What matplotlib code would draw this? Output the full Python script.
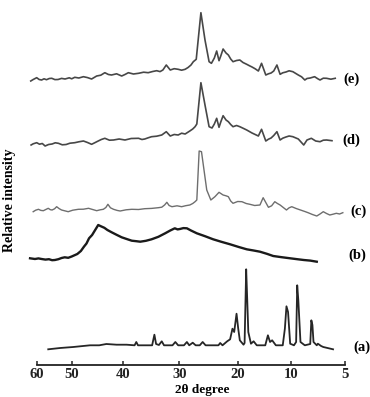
import numpy as np
import matplotlib
matplotlib.use("Agg")
import matplotlib.pyplot as plt
from matplotlib.transforms import blended_transform_factory

# 2theta tick values and where they sit along the drawn axis (the printed axis is not linear)
tick_deg = [5, 10, 20, 30, 40, 50, 60]
tick_pos = [0, 54.3, 107.3, 165.7, 222.3, 273.3, 308.3]

# patterns: 2theta (deg) and intensity above own baseline
e_x = [61.7, 61.0, 60.0, 59.3, 58.6, 57.9, 57.2, 56.4, 55.7, 54.8, 53.9, 52.9, 51.9, 50.7, 50.0,
       49.4, 48.6, 47.7, 46.9, 46.1, 45.6, 45.1, 44.3, 43.5, 42.8, 42.2, 41.2, 40.2, 39.6, 39.0,
       38.1, 37.2, 36.3, 35.5, 34.7, 34.0, 33.4, 32.9, 32.3, 31.6, 30.9, 30.2, 29.6, 29.0, 28.5,
       28.0, 27.6, 27.1, 26.3, 25.6, 24.9, 24.5, 24.0, 23.6, 23.2, 22.9, 22.5, 22.0, 21.6, 21.2,
       20.8, 20.2, 19.6, 19.0, 18.3, 17.8, 17.3, 16.7, 16.1, 15.5, 14.7, 14.2, 13.7, 13.2, 12.6,
       12.0, 11.5, 10.9, 10.3, 9.8, 9.3, 9.0, 8.7, 8.5, 8.2, 7.8, 7.5, 7.3, 7.0, 6.7,
       6.3, 5.9]
e_y = [-1, 0.5, 2.3, 0.5, 0, 1.2, 0.3, 1.5, 1.7, 0.4, 0.5, 1.6, 1, 2.2, 1.2,
       2.7, 2.0, 3.3, 2.4, 1, 2.5, 4, 4.8, 7.3, 5.5, 5, 6.2, 4, 5.5, 7.3,
       6.0, 6.7, 7.8, 7.3, 8.5, 9.3, 8.4, 10, 15, 10, 11.3, 10.7, 9.8, 10.7, 12.5,
       15, 18.3, 20.7, 67.3, 40, 18.3, 16.7, 22, 29, 19.3, 24, 31, 27, 25, 21,
       18.3, 19.5, 20, 17.5, 15.7, 14.3, 13, 11.2, 9, 16.7, 5, 6.2, 7, 9, 15,
       5.7, 7.2, 8, 9.2, 8.3, 5, 3.2, 0, 1.5, 2, 3.3, 1.2, 0, 1.8, 1.7,
       0.8, 1.7]

d_x = [61.6, 61.0, 60.0, 59.2, 58.4, 57.6, 56.6, 55.6, 54.7, 53.8, 52.7, 51.6, 50.5, 49.4, 48.6,
       47.7, 46.9, 46.1, 45.5, 45.0, 44.2, 43.5, 42.6, 41.8, 40.7, 39.6, 38.5, 37.2, 36.6, 36.1,
       35.5, 34.9, 34.0, 33.1, 32.3, 31.6, 30.9, 30.2, 29.6, 29.0, 28.2, 27.7, 27.3, 27.0, 26.3,
       25.6, 24.9, 24.4, 24.0, 23.6, 23.2, 22.9, 22.5, 22.0, 21.6, 21.2, 20.8, 20.2, 19.6, 19.0,
       18.3, 17.8, 17.3, 16.7, 16.1, 15.5, 14.7, 14.2, 13.7, 13.2, 12.6, 12.0, 11.5, 10.9, 10.3,
       9.8, 9.3, 8.8, 8.5, 8.1, 7.7, 7.3, 7.0, 6.7, 6.2]
d_y = [0, 1.2, 2.3, 0.8, 1.5, -1, 0.5, 1, 2.2, 1.7, 0.2, 0.5, 1.8, 2.3, 3.2,
       4, 2.5, 0.7, 2.2, 3.5, 5.5, 6.7, 4.8, 5, 6, 5, 6.5, 6.7, 5.5, 6,
       7.2, 8.3, 8.8, 10, 13.3, 9, 10.5, 10, 11.8, 11, 14, 16, 18.3, 21, 62.3,
       40, 18.3, 17, 21, 26.7, 17.7, 23, 29.3, 25, 23.3, 20.5, 18.3, 19.5, 18.3, 16.8,
       15, 13.5, 12, 10.5, 9, 15.7, 4, 5.8, 7, 9.5, 13.3, 5, 6.8, 8, 9,
       8.3, 6, 0, 5, 6.7, 4, 3.3, 4.8, 5, 4.3]

c_x = [61.0, 60.3, 59.5, 58.8, 58.1, 57.4, 56.7, 56.1, 55.6, 54.9, 54.3, 53.6, 52.9, 52.0, 51.0,
       49.8, 48.7, 47.7, 46.7, 45.9, 45.1, 44.4, 43.8, 43.3, 42.9, 42.4, 41.8, 41.1, 40.5, 39.4,
       38.4, 37.2, 36.1, 34.9, 33.7, 33.1, 32.6, 32.2, 31.8, 31.3, 30.4, 29.6, 28.9, 28.2, 27.7,
       27.3, 27.0, 26.6, 26.2, 25.7, 25.3, 24.6, 23.9, 23.2, 22.5, 22.0, 21.6, 21.2, 20.8, 20.0,
       19.2, 18.4, 17.7, 16.8, 15.8, 15.2, 14.2, 13.6, 13.0, 12.5, 12.0, 11.4, 10.8, 10.3, 9.9,
       9.5, 9.1, 8.7, 8.4, 8.0, 7.6, 7.3, 7.0, 6.7, 6.4, 6.1, 5.8, 5.5, 5.2]
c_y = [-0.7, 0.8, 1.7, 0.6, 0.3, 1.5, 2.7, 1.3, 1, 2.2, 4.3, 2.4, 1, 0.2, -0.7,
       0.8, 1.7, 1.8, 2.7, 1.5, 0.3, 1.2, 1.7, 3.5, 6.7, 3.2, 1.7, 0.6, 0, 1.2,
       1.7, 1.5, 2.3, 2.6, 3.3, 3.8, 6, 8.7, 5.5, 4.3, 5.2, 4.3, 5.3, 6, 7.5,
       9.3, 11, 60, 59.3, 38, 21, 11, 14.3, 18.7, 16, 15.2, 14.3, 10, 7.7, 9.5,
       9.3, 7.5, 6.7, 5.5, 6, 13.3, 3.7, 5.2, 9.3, 7.5, 6, 3.5, 1, 3.2, 4.3,
       2.5, 1, -0.5, -1.7, -3.5, -5, -3, -0.7, -2.5, -4, -3.2, -2.3, -3.0, -1.7]

b_x = [61.9, 60.5, 59.5, 58.6, 57.5, 56.5, 55.6, 54.8, 53.8, 52.9, 52.0, 51.0, 50.0, 48.9, 48.2,
       47.6, 47.1, 46.6, 46.0, 45.4, 44.8, 44.3, 43.6, 43.0, 42.2, 41.2, 40.2, 39.3, 38.4, 37.6,
       36.9, 35.9, 34.9, 33.7, 32.5, 31.6, 30.8, 30.3, 29.9, 29.3, 28.7, 28.0, 27.0, 25.6, 24.2,
       22.8, 21.3, 19.8, 18.3, 17.0, 15.8, 14.5, 13.3, 11.7, 10.1, 9.4, 8.8, 8.2, 7.6]
b_y = [1.7, 1.0, 1.6, 1, 0.4, 0.8, -0.2, 0, 0.8, 2, 2.7, 2.2, 3.5, 6, 9,
       13.3, 16.5, 21.7, 25, 30, 35, 33.8, 32.2, 30, 27.8, 25.2, 22.7, 21, 19.3, 18.8,
       18.3, 19.2, 20.7, 23.2, 26.7, 29.5, 31.7, 30.6, 31, 31.9, 31.7, 29.5, 26.7, 23.8, 20.7,
       18.2, 15.7, 13, 10.7, 9.5, 8.3, 6.2, 4, 2.8, 1.7, 0.8, 0, -0.6, -1.7]

a_x = [56.7, 53.3, 49.7, 46.4, 44.6, 43.2, 41.2, 39.3, 37.9, 37.6, 37.3, 35.8, 34.8, 34.4, 34.1,
       33.6, 33.1, 32.7, 31.2, 30.7, 30.2, 29.2, 28.7, 28.3, 27.7, 27.2, 26.5, 26.0, 25.5, 23.3,
       23.0, 22.6, 21.8, 21.3, 20.9, 20.6, 20.2, 19.9, 19.6, 18.9, 18.7, 18.4, 18.2, 18.0, 17.5,
       17.0, 16.4, 14.8, 14.3, 13.9, 13.5, 12.8, 11.5, 11.1, 10.8, 10.5, 10.1, 9.7, 9.5, 9.4,
       9.3, 9.1, 8.7, 8.2, 8.1, 8.0, 7.9, 7.6, 7.5, 7.2, 7.0, 6.1]
a_y = [-3.3, -2, -1, 0.7, 0.7, 2, 1.3, 1.3, 0.7, 4, 0.7, 0.7, 0.7, 11.3, 2,
       1, 4.7, 0.7, 0.7, 4, 0.7, 0.7, 4, 0.7, 3.3, 0.7, 0.7, 4, 0.7, 0.7,
       3, 0.7, 4.7, 6.7, 17.3, 14, 32.3, 17.3, 5.7, 1.3, 3, 76.7, 46, 14, 2.3,
       4.7, 0.7, 0.7, 10.7, 4, 5.7, 0.7, 0.7, 17.3, 39.7, 34, 2.3, 0.7, 4, 60.7,
       46, 4, 0.7, 2, 25.7, 21, 4, 0.7, 2.3, 0, -1, -3.3]

names = ["(a)", "(b)", "(c)", "(d)", "(e)"]
offsets = [19, 105, 154, 220, 285]

plt.rcParams["font.family"] = ["Liberation Serif", "DejaVu Serif"]
plt.rcParams["font.weight"] = "bold"

fig = plt.figure(figsize=(3.70, 3.97), dpi=100)
ax = fig.add_axes([36.7 / 370, 32 / 397, 308.3 / 370, 365 / 397])

# piecewise scale so the ticks land where they are printed
deg_ext = [0] + tick_deg + [70]
pos_ext = [-54.3] + tick_pos + [343.3]
fwd = lambda v: np.interp(v, deg_ext, pos_ext)
inv = lambda v: np.interp(v, pos_ext, deg_ext)
ax.set_xscale("function", functions=(fwd, inv))
ax.set_xlim(60, 5)
ax.set_ylim(0, 365)

series = [(a_x, a_y), (b_x, b_y), (c_x, c_y), (d_x, d_y), (e_x, e_y)]
colors = ["#262626", "#1a1a1a", "#6e6e6e", "#474747", "#474747"]
widths = [1.3, 1.7, 1.0, 1.2, 1.2]
for (xs, ys), off, col, lw in zip(series, offsets, colors, widths):
    ax.plot(xs, np.array(ys) + off, color=col, lw=lw, clip_on=False)

# trace labels to the right of the axis
trans = blended_transform_factory(ax.transAxes, ax.transData)
label_x = [1.054, 1.040, 1.045, 1.022, 1.022]
label_y = [17.7, 110, 154, 225, 286]
for name, lx, ly in zip(names, label_x, label_y):
    ax.text(lx, ly, name, transform=trans, ha="center", va="center",
            fontsize=10.5, fontweight="bold")

for s in ["left", "right", "top"]:
    ax.spines[s].set_visible(False)
ax.spines["bottom"].set_linewidth(1.3)
ax.spines["bottom"].set_color("#222222")
ax.set_yticks([])
ax.set_xticks(tick_deg)
ax.set_xticklabels([str(t) for t in tick_deg], fontsize=10.5, fontweight="bold")
ax.tick_params(axis="x", direction="in", length=3, width=1.1, pad=2, colors="#222222")

fig.text(202 / 370, 1.5 / 397, "2θ degree", ha="center", va="bottom",
         fontsize=9.5, fontweight="bold")
fig.text(10 / 370, 1 - 200 / 397, "Relative intensity", rotation=90, ha="center",
         va="center", fontsize=10, fontweight="bold")

fig.savefig("out.png", dpi=100)
